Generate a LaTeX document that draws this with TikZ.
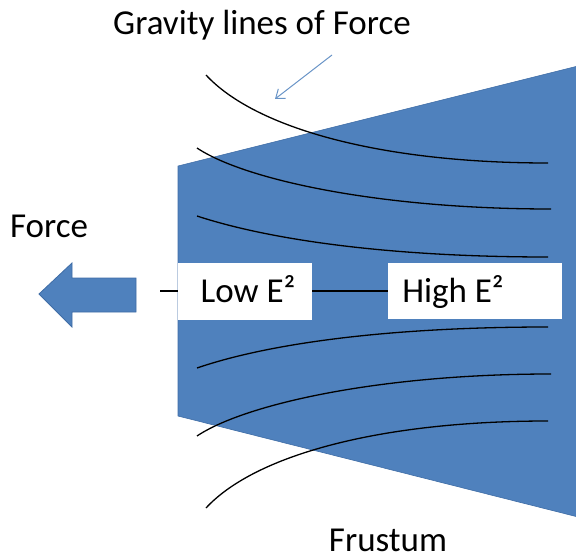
\documentclass[tikz,border=0pt]{standalone}
\usepackage{fontspec}
\setmainfont{Carlito}
\usetikzlibrary{arrows.meta}
\definecolor{ofblue}{HTML}{4F81BD}
\definecolor{ofedge}{HTML}{3F6DA6}
\tikzset{
  field/.style={draw=black, line width=1.3pt},
  ebox/.style={fill=white, inner sep=0pt, font=\fontsize{35}{40}\selectfont},
  lbl/.style={inner sep=0pt, anchor=base, font=\fontsize{35}{40}\selectfont},
}
\begin{document}
\begin{tikzpicture}[x=1pt,y=-1pt]
\useasboundingbox (0,0) rectangle (576,559);
\begin{scope}
\clip (0,0) rectangle (576,559);
\fill[ofblue, draw=ofedge, line width=0.6pt] (178,166) -- (590,63) -- (590,520) -- (178,416) -- cycle;
\end{scope}
% field lines
\draw[field] (206,75) .. controls (255,128) and (380,163) .. (548,163);
\draw[field] (197,148) .. controls (245,180) and (380,209) .. (551,209);
\draw[field] (197,216) .. controls (270,240) and (390,257) .. (548,257);
\draw[field] (197,368) .. controls (270,343) and (390,327) .. (548,327);
\draw[field] (197,436) .. controls (245,404) and (380,374) .. (551,374);
\draw[field] (206,508) .. controls (255,455) and (380,421) .. (548,421);
% boxes
\node[ebox, minimum width=134pt, minimum height=57pt] (low) at (245,291) {};
\node[ebox, minimum width=174pt, minimum height=56pt] (high) at (475,291) {};
\node[lbl] (lowtxt) at (248,302) {Low E²};
\node[lbl] (hightxt) at (453,302) {High E²};
\coordinate (stub) at (160,291);
\draw[line width=1.3pt] (stub) -- (low.west);
\draw[line width=1.3pt] (low.east) -- (high.west);
% big arrow
\fill[ofblue, draw=ofedge, line width=0.8pt, line join=miter]
  (39,294) -- (72,263) -- (72,278) -- (136,278) -- (136,312) -- (72,312) -- (72,327) -- cycle;
% labels
\node[lbl] (title) at (262,35) {Gravity lines of Force};
\node[lbl] (force) at (49,237) {Force};
\node[lbl] (frustum) at (388,551) {Frustum};
% pointer arrow
\coordinate (pfrom) at (332,55);
\coordinate (pto) at (275,99);
\draw[ofblue!85!white, line width=1pt, -{Straight Barb[length=8pt,width=12pt]}] (pfrom) -- (pto);
\end{tikzpicture}
\end{document}
